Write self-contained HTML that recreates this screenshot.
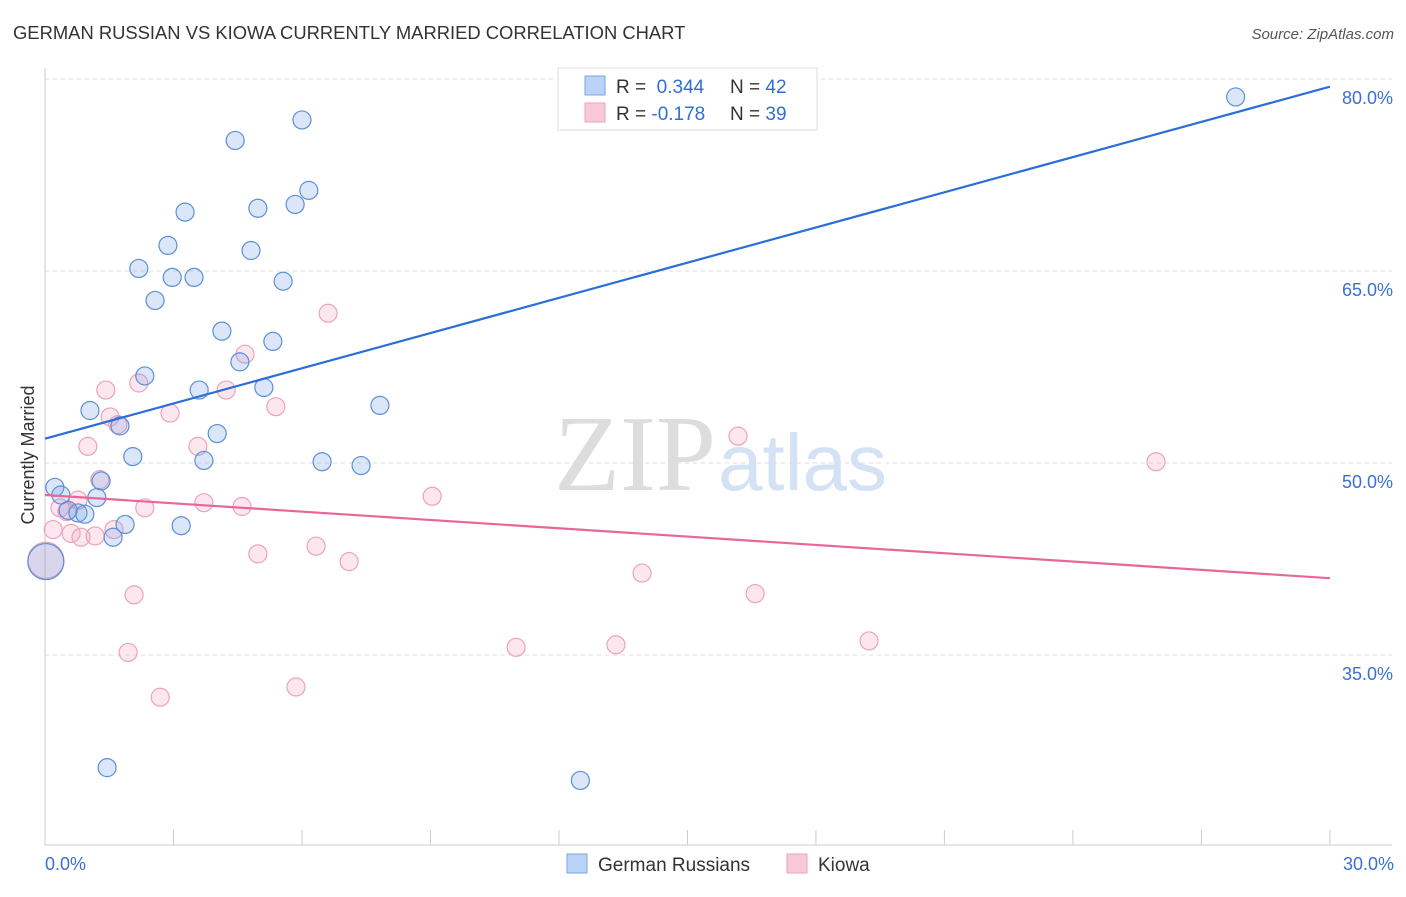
<!DOCTYPE html>
<html><head><meta charset="utf-8"><style>
body{margin:0;background:#fff;font-family:"Liberation Sans",sans-serif}
</style></head><body>
<svg width="1406" height="892" xmlns="http://www.w3.org/2000/svg" id="svg">
<text x="13" y="39" font-size="18.4" fill="#333">GERMAN RUSSIAN VS KIOWA CURRENTLY MARRIED CORRELATION CHART</text>
<text x="1394" y="39" font-size="15" fill="#555" font-style="italic" text-anchor="end">Source: ZipAtlas.com</text>
<text x="716" y="490" font-size="108" fill="#ddd" text-anchor="end" font-family="Liberation Serif">ZIP</text>
<text x="718" y="490" font-size="80" fill="#d5e2f5">atlas</text>
<text x="34" y="455" font-size="18" fill="#333" text-anchor="middle" transform="rotate(-90 34 455)">Currently Married</text>
<g id="grid"></g><g id="axes"></g><g id="pts"></g><g id="lines"></g>
<g>
<rect x="558" y="68" width="259" height="62" fill="#fff" stroke="#ddd"/>
<rect x="585" y="76" width="20" height="19" fill="#b8d3f5" stroke="#7aa6e0"/>
<rect x="585" y="103" width="20" height="19" fill="#f9c9d8" stroke="#eba3bb"/>
<text x="616" y="93" font-size="19" fill="#333">R = <tspan fill="#2f6fd6">&#160;0.344</tspan><tspan x="730">N = </tspan><tspan fill="#2f6fd6">42</tspan></text>
<text x="616" y="120" font-size="19" fill="#333">R = <tspan fill="#2f6fd6">-0.178</tspan><tspan x="730">N = </tspan><tspan fill="#2f6fd6">39</tspan></text>
</g>
<g>
<rect x="567" y="854" width="20" height="19" fill="#b8d3f5" stroke="#7aa6e0"/>
<text x="598" y="871" font-size="19" fill="#333">German Russians</text>
<rect x="787" y="854" width="20" height="19" fill="#f9c9d8" stroke="#eba3bb"/>
<text x="818" y="871" font-size="19" fill="#333">Kiowa</text>
</g>
</svg>
<script>
const yTicks=[35,50,65,80];
const xTickLabels=["0.0%","30.0%"];
const blueX=[27.8,6.0,4.44,6.16,5.84,4.97,3.27,2.87,4.81,2.19,2.97,3.48,5.56,2.57,4.13,5.32,4.55,2.33,3.6,5.11,7.82,1.05,1.75,4.02,2.05,3.71,6.47,7.38,0.23,1.31,0.37,1.21,0.54,0.77,0.93,1.87,3.18,1.59,0.02,1.45,12.5];
const blueY=[78.6,76.8,75.2,71.3,70.2,69.9,69.6,67.0,66.6,65.2,64.5,64.5,64.2,62.7,60.3,59.5,57.9,56.8,55.7,55.9,54.5,54.1,52.9,52.3,50.5,50.2,50.1,49.8,48.1,48.6,47.5,47.3,46.3,46.1,46.0,45.2,45.1,44.2,42.3,26.2,25.2];
const pinkX=[6.61,4.67,1.42,2.19,4.23,5.39,2.92,1.52,1.70,16.18,1.0,3.57,25.94,1.28,9.04,0.77,3.71,4.6,2.33,0.35,0.51,0.19,0.61,1.61,0.84,1.17,6.33,4.97,7.1,0.02,13.94,2.08,16.58,19.24,11.0,13.33,1.94,5.86,2.69];
const pinkY=[61.7,58.5,55.7,56.25,55.7,54.4,53.9,53.6,53.0,52.1,51.3,51.3,50.1,48.7,47.4,47.1,46.9,46.6,46.5,46.5,46.2,44.8,44.5,44.8,44.2,44.3,43.5,42.9,42.3,42.4,41.4,39.7,39.8,36.1,35.6,35.8,35.2,32.5,31.7];
const blueTrend=[51.9,79.4];
const pinkTrend=[47.5,41.0];
const X=v=>45+v*42.83, Y=v=>79+(80-v)*12.8;
const NS="http://www.w3.org/2000/svg";
function mk(t,a,p){const e=document.createElementNS(NS,t);for(const k in a)e.setAttribute(k,a[k]);p.appendChild(e);return e;}
const grid=document.getElementById('grid'),axes=document.getElementById('axes'),pts=document.getElementById('pts'),lines=document.getElementById('lines');
yTicks.forEach(t=>{
 const l=mk('line',{x1:45,x2:1392,y1:Y(t),y2:Y(t),stroke:'#ddd','stroke-dasharray':'4,4'},grid);
 
 
 const tx=mk('text',{x:1393,y:Y(t)+25,'font-size':18,fill:'#3b6fd4','text-anchor':'end'},grid);
 tx.textContent=t.toFixed(1)+'%';
 
 
});
const ya=mk('line',{x1:45,x2:45,y1:68,y2:845,stroke:'#ccc'},axes);


const xa=mk('line',{x1:45,x2:1392,y1:845,y2:845,stroke:'#ccc'},axes);


for(let i=0;i<=10;i++){const t=mk('line',{x1:X(i*3),x2:X(i*3),y1:830,y2:845,stroke:'#ccc'},axes);
 
 }
[[0,xTickLabels[0],'start',45],[30,xTickLabels[1],'end',1394]].forEach(([v,s,a,x])=>{
 const t=mk('text',{x:x,y:870,'font-size':18,fill:'#3b6fd4','text-anchor':a},axes);t.textContent=s;
 
 });
function dots(xs,ys,fill,stroke,name){xs.forEach((x,i)=>{const big=x<0.1;
 const c=mk('circle',{cx:X(x),cy:Y(ys[i]),r:big?18:9,fill:fill,stroke:stroke,'stroke-width':1.2},pts);
 
 });}
dots(pinkX,pinkY,'rgba(243,160,188,0.25)','#eba3bb','kiowa-point');
dots(blueX,blueY,'rgba(110,160,230,0.25)','#5b8fd8','german-russian-point');
const bl=mk('line',{x1:X(0),x2:X(30),y1:Y(blueTrend[0]),y2:Y(blueTrend[1]),stroke:'#2a6fd8','stroke-width':2.2},lines);


const pl=mk('line',{x1:X(0),x2:X(30),y1:Y(pinkTrend[0]),y2:Y(pinkTrend[1]),stroke:'#e8679a','stroke-width':2.2},lines);


</script>
</body></html>
